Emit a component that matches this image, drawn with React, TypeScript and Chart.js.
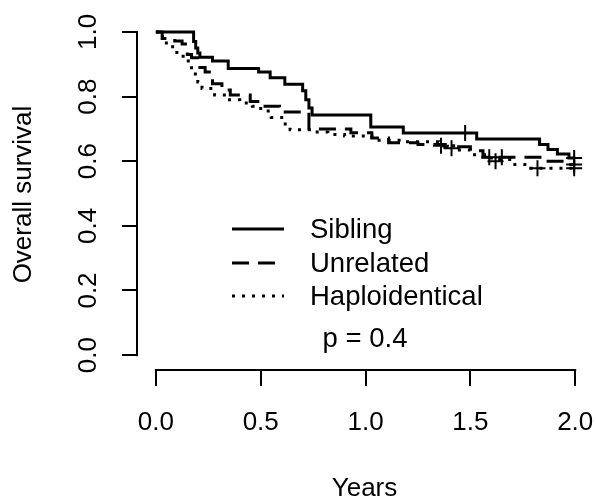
import React, { useEffect, useRef } from "react";
import { Chart, registerables } from "chart.js";

Chart.register(...registerables);

// ---- Data ----
const xTicks = [0, 0.5, 1.0, 1.5, 2.0];
const yTicks = [0, 0.2, 0.4, 0.6, 0.8, 1.0];
const seriesLabels = ["Sibling", "Unrelated", "Haploidentical"];
const xTitle = "Years";
const yTitle = "Overall survival";
const pValueText = "p = 0.4";

const siblingTime = [0, 0.18, 0.19, 0.2, 0.21, 0.27, 0.345, 0.49, 0.545, 0.615, 0.7, 0.715, 0.73, 0.745, 1.025, 1.18, 1.53, 1.83, 1.87, 1.915, 1.97, 2.0];
const siblingSurv = [1.0, 0.97, 0.95, 0.935, 0.922, 0.91, 0.887, 0.876, 0.858, 0.838, 0.818, 0.79, 0.765, 0.743, 0.706, 0.687, 0.669, 0.652, 0.636, 0.622, 0.61, 0.61];
const siblingCensTime = [1.475, 1.995];
const siblingCensSurv = [0.687, 0.61];

const unrelTime = [0, 0.03, 0.09, 0.125, 0.15, 0.17, 0.21, 0.235, 0.27, 0.315, 0.355, 0.45, 0.51, 0.59, 0.73, 0.93, 1.03, 1.11, 1.25, 1.38, 1.5, 1.56, 1.86, 1.95, 2.0];
const unrelSurv = [1.0, 0.98, 0.972, 0.963, 0.93, 0.92, 0.89, 0.876, 0.84, 0.82, 0.805, 0.785, 0.77, 0.752, 0.7, 0.688, 0.672, 0.657, 0.652, 0.645, 0.632, 0.612, 0.6, 0.59, 0.59];
const unrelCensTime = [1.36, 1.59, 1.65, 1.995];
const unrelCensSurv = [0.648, 0.612, 0.612, 0.59];

const haploTime = [0, 0.02, 0.05, 0.08, 0.1, 0.13, 0.17, 0.2, 0.22, 0.28, 0.34, 0.4, 0.46, 0.5, 0.55, 0.6, 0.64, 0.76, 0.82, 0.9, 1.03, 1.2, 1.35, 1.43, 1.5, 1.6, 1.7, 1.78, 2.0];
const haploSurv = [1.0, 0.985, 0.96, 0.945, 0.925, 0.91, 0.87, 0.845, 0.825, 0.805, 0.79, 0.78, 0.77, 0.755, 0.735, 0.715, 0.697, 0.69, 0.683, 0.678, 0.665, 0.66, 0.648, 0.635, 0.62, 0.605, 0.59, 0.578, 0.578];
const haploCensTime = [1.41, 1.62, 1.82, 1.995];
const haploCensSurv = [0.64, 0.6, 0.578, 0.578];

const FONT = "'Liberation Sans', Arial, Helvetica, sans-serif";
const TICK_SIZE = 26;
const TITLE_SIZE = 26;
const LEGEND_SIZE = 27.5;

const toPts = (t: number[], s: number[]) => t.map((v, i) => ({ x: v, y: s[i] }));

const dashes: number[][] = [[], [17, 9], [3, 7]];

const rStylePlugin = {
  id: "rStyle",
  afterDraw(chart: any) {
    const { ctx, chartArea } = chart;
    const xs = chart.scales.x;
    const ys = chart.scales.y;
    ctx.save();
    ctx.strokeStyle = "#000";
    ctx.lineWidth = 2;
    ctx.setLineDash([]);
    // axis lines (R style: from first to last tick)
    const lx = Math.round(chartArea.left);
    ctx.beginPath();
    ctx.moveTo(lx, ys.getPixelForValue(yTicks[0]) + 1);
    ctx.lineTo(lx, ys.getPixelForValue(yTicks[yTicks.length - 1]) - 1);
    ctx.stroke();
    const by = Math.round(chartArea.bottom);
    ctx.beginPath();
    ctx.moveTo(xs.getPixelForValue(xTicks[0]) - 1, by);
    ctx.lineTo(xs.getPixelForValue(xTicks[xTicks.length - 1]) + 1, by);
    ctx.stroke();

    // rotated y tick labels
    ctx.font = `${TICK_SIZE}px ${FONT}`;
    ctx.fillStyle = "#000";
    ctx.textAlign = "center";
    ctx.textBaseline = "middle";
    ys.ticks.forEach((t: any) => {
      const py = ys.getPixelForValue(t.value);
      ctx.save();
      ctx.translate(chartArea.left - 48, py);
      ctx.rotate(-Math.PI / 2);
      ctx.fillText(Number(t.value).toFixed(1), 0, 0);
      ctx.restore();
    });

    // legend
    ctx.font = `${LEGEND_SIZE}px ${FONT}`;
    const items = chart.data.datasets.filter((d: any) => !String(d.label).startsWith("_"));
    const rowY = [229, 263, 296];
    items.forEach((d: any, i: number) => {
      const yy = rowY[i];
      ctx.lineWidth = 3;
      ctx.lineCap = "butt";
      ctx.setLineDash(d.borderDash || []);
      ctx.beginPath();
      ctx.moveTo(232, yy);
      ctx.lineTo(284, yy);
      ctx.stroke();
      ctx.setLineDash([]);
      ctx.textAlign = "left";
      ctx.fillText(d.label, 310, yy + 1);
    });
    ctx.textAlign = "center";
    ctx.fillText(pValueText, 365, 339);
    ctx.restore();
  },
};

export default function App() {
  const ref = useRef<HTMLCanvasElement>(null);
  useEffect(() => {
    if (!ref.current) return;
    const lineDs = (label: string, t: number[], s: number[], i: number) => ({
      type: "line" as const,
      label,
      data: toPts(t, s),
      borderColor: "#000",
      borderWidth: 3,
      borderDash: dashes[i],
      borderCapStyle: "butt" as const,
      stepped: "before" as const,
      pointRadius: 0,
      fill: false,
    });
    const censDs = (t: number[], s: number[]) => ({
      type: "scatter" as const,
      label: "_censor",
      data: toPts(t, s),
      pointStyle: "cross" as const,
      pointRadius: 8,
      pointBorderWidth: 2,
      borderColor: "#000",
      backgroundColor: "#000",
      showLine: false,
    });
    const chart = new Chart(ref.current, {
      type: "line",
      data: {
        datasets: [
          lineDs(seriesLabels[0], siblingTime, siblingSurv, 0),
          lineDs(seriesLabels[1], unrelTime, unrelSurv, 1),
          lineDs(seriesLabels[2], haploTime, haploSurv, 2),
          censDs(siblingCensTime, siblingCensSurv),
          censDs(unrelCensTime, unrelCensSurv),
          censDs(haploCensTime, haploCensSurv),
        ] as any,
      },
      options: {
        animation: false,
        responsive: false,
        layout: { autoPadding: false, padding: { left: 0, right: 4, top: 19, bottom: 0 } },
        plugins: { legend: { display: false }, tooltip: { enabled: false } },
        scales: {
          x: {
            type: "linear",
            min: -0.09,
            max: 2.08,
            afterBuildTicks: (s: any) => {
              s.ticks = xTicks.map((v) => ({ value: v }));
            },
            afterFit: (s: any) => {
              s.height = 128;
              s.paddingLeft = 0;
              s.paddingRight = 0;
            },
            border: { display: false },
            grid: { drawOnChartArea: false, drawTicks: true, tickLength: 16, color: "#000", lineWidth: 2 },
            ticks: {
              padding: 21,
              color: "#000",
              font: { family: FONT, size: TICK_SIZE },
              maxRotation: 0,
              autoSkip: false,
              callback: (v: any) => Number(v).toFixed(1),
            },
            title: {
              display: true,
              text: xTitle,
              color: "#000",
              font: { family: FONT, size: TITLE_SIZE },
              padding: { top: 0, bottom: -6 },
            },
          },
          y: {
            type: "linear",
            min: -0.046,
            max: 1.04,
            afterBuildTicks: (s: any) => {
              s.ticks = yTicks.map((v) => ({ value: v }));
            },
            afterFit: (s: any) => {
              s.width = 137;
              s.paddingTop = 0;
              s.paddingBottom = 0;
            },
            border: { display: false },
            grid: { drawOnChartArea: false, drawTicks: true, tickLength: 15, color: "#000", lineWidth: 2 },
            ticks: { display: false },
            title: {
              display: true,
              text: yTitle,
              color: "#000",
              font: { family: FONT, size: TITLE_SIZE },
              padding: { top: 8, bottom: 0 },
            },
          },
        },
      },
      plugins: [rStylePlugin],
    });
    return () => chart.destroy();
  }, []);
  return (
    <div style={{ position: "absolute", left: 0, top: 0, width: 596, height: 498, background: "#fff" }}>
      <canvas ref={ref} width={596} height={498} style={{ width: 596, height: 498, display: "block" }} />
    </div>
  );
}
